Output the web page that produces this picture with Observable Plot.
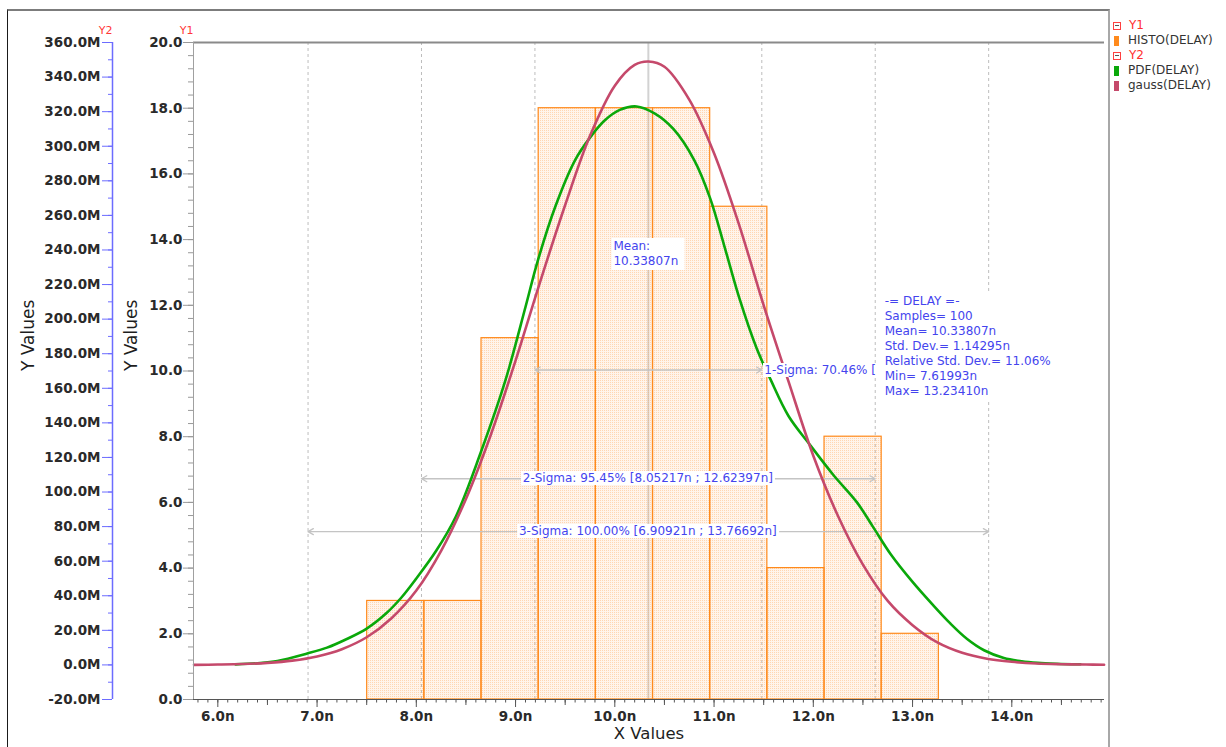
<!DOCTYPE html>
<html>
<head>
<meta charset="utf-8">
<script src="https://cdn.jsdelivr.net/npm/d3@7"></script>
<script src="https://cdn.jsdelivr.net/npm/@observablehq/plot@0.6"></script>
<style>
  body { margin: 0; background: #fff; font-family: "DejaVu Sans", sans-serif; }
  #wrap { position: relative; width: 1226px; height: 747px; overflow: hidden; background: #fff; }
  #chart { position: absolute; left: 0; top: 0; }
  #border { position: absolute; left: 7px; top: 9px; width: 1103px; height: 760px; box-sizing: border-box;
            border-top: 2px solid #7c7c7c; border-left: 1.5px solid #1a1a1a; border-right: 2px solid #a8a8a8; pointer-events: none; }
  .lbl { position: absolute; background: #fff; color: #4444ee; font-size: 12px; line-height: 15px; white-space: pre; }
  #legend { position: absolute; left: 1113px; top: 18px; font-size: 12px; line-height: 15px; color: #333; }
  #legend .row { height: 15px; display: flex; align-items: center; white-space: nowrap; }
  #legend .box { display: inline-block; width: 6px; height: 6px; border: 1px solid #ff4040; margin: 0 8px 0 0; position: relative; }
  #legend .box::after { content: ""; position: absolute; left: 1px; right: 1px; top: 2.5px; height: 1px; background: #555; }
  #legend .grp { color: #ff3030; }
  #legend .sw { display: inline-block; width: 5px; height: 10px; margin: 0 9px 0 1px; }
</style>
</head>
<body>
<svg width="0" height="0" style="position:absolute">
  <defs>
    <pattern id="hdots" width="2" height="2" patternUnits="userSpaceOnUse">
      <rect width="2" height="2" fill="#ff9a3c" fill-opacity="0.10"></rect>
      <rect width="1" height="1" fill="#ff9a3c" fill-opacity="0.32"></rect>
    </pattern>
  </defs>
</svg>
<div id="wrap">
  <div id="chart"></div>
  <div id="border"></div>
  <div id="legend"></div>
</div>
<script>
// ---------- data ----------
const xDomain = [5.755, 14.934];
const y1Domain = [0, 20];
const y2Domain = [-20, 360];

const xTickValues = [6, 7, 8, 9, 10, 11, 12, 13, 14];
const y1TickValues = [0, 2, 4, 6, 8, 10, 12, 14, 16, 18, 20];
const y2TickValues = [-20, 0, 20, 40, 60, 80, 100, 120, 140, 160, 180, 200, 220, 240, 260, 280, 300, 320, 340, 360];

// histogram HISTO(DELAY) on Y1
const histEdges = [7.505, 8.081, 8.657, 9.233, 9.809, 10.385, 10.961, 11.537, 12.113, 12.689, 13.265];
const histCounts = [3, 3, 11, 18, 18, 18, 15, 4, 8, 2];

// PDF(DELAY) on Y2 (values in M)
const pdfX = [6.18, 6.4, 6.6, 6.9, 7.1, 7.3, 7.5, 7.7, 7.85, 8.0, 8.2, 8.4, 8.65, 8.9, 9.1, 9.22, 9.4, 9.6, 9.75, 9.9,
              10.05, 10.22, 10.4, 10.59, 10.8, 10.96, 11.1, 11.25, 11.43, 11.57, 11.75, 11.97, 12.2, 12.44, 12.6, 12.78,
              13.0, 13.2, 13.38, 13.55, 13.72, 13.92, 14.1, 14.26, 14.45, 14.69];
const pdfM = [0.3, 1.0, 2.3, 6.6, 10, 15, 21, 30, 39, 50, 66, 86, 123, 165, 207, 233, 265, 292, 305, 315,
              321, 323, 319, 310, 292, 270, 243, 213, 183, 165, 144, 127, 110, 94, 80, 64,
              48, 35, 24, 15, 8.5, 4.0, 2.1, 1.2, 0.7, 0.4];

// gauss(DELAY) on Y2 (values in M)
const gaussX = [5.76, 6.0, 6.25, 6.5, 6.75, 7.0, 7.25, 7.5, 7.75, 8.0, 8.25, 8.5, 8.75, 9.0, 9.25, 9.5, 9.75, 10.0, 10.2, 10.34,
                10.5, 10.75, 11.0, 11.25, 11.5, 11.75, 12.0, 12.25, 12.5, 12.75, 13.0, 13.25, 13.5, 13.75, 14.0, 14.25, 14.5, 14.75, 14.93];
const gaussM = [0.05, 0.2, 0.5, 1.2, 2.5, 4.9, 9.1, 16, 27, 43, 66, 96, 133, 176, 222, 266, 306, 335, 347, 349,
                346, 327, 296, 255, 208, 164, 121, 86, 58, 37, 23, 13, 7, 3.6, 1.8, 0.8, 0.4, 0.2, 0.1];

// statistics
const meanValue = 10.33807;
const sigmaBounds = [6.90921, 8.05217, 9.19512, 11.48102, 12.62397, 13.76692];
const sigmaNames = ["1-Sigma: 70.46% [", "2-Sigma: 95.45% [8.05217n ; 12.62397n]", "3-Sigma: 100.00% [6.90921n ; 13.76692n]"];
const sigmaLo = [9.19512, 8.05217, 6.90921];
const sigmaHi = [11.48102, 12.62397, 13.76692];
const sigmaLevel = [10.03, 6.72, 5.11];   // Y1 height of each interval arrow
const statsLines = ["-= DELAY =-", "Samples= 100", "Mean= 10.33807n", "Std. Dev.= 1.14295n",
                    "Relative Std. Dev.= 11.06%", "Min= 7.61993n", "Max= 13.23410n"];

const legendItems = [
  {group: "Y1"}, {name: "HISTO(DELAY)", color: "#ff8a1c"},
  {group: "Y2"}, {name: "PDF(DELAY)", color: "#0aa80a"}, {name: "gauss(DELAY)", color: "#c5496b"}
];

// ---------- helpers ----------
const toY1 = m => y1Domain[0] + (m - y2Domain[0]) / (y2Domain[1] - y2Domain[0]) * (y1Domain[1] - y1Domain[0]);
const fromY1 = v => y2Domain[0] + (v - y1Domain[0]) / (y1Domain[1] - y1Domain[0]) * (y2Domain[1] - y2Domain[0]);

const bins = histCounts.map((c, i) => ({x1: histEdges[i], x2: histEdges[i + 1], count: c}));
const pdf = pdfX.map((x, i) => ({x, y: toY1(pdfM[i])}));
const gauss = gaussX.map((x, i) => ({x, y: toY1(gaussM[i])}));
const arrows = sigmaLo.map((lo, i) => ({lo, hi: sigmaHi[i], mid: (lo + sigmaHi[i]) / 2, y: sigmaLevel[i]}));

const xMinor = d3.range(58, 150).map(i => i / 10);
const xMid = d3.range(6, 15).map(i => i + 0.5).filter(v => v < xDomain[1]);
const y1Minor = d3.range(0, 51).map(i => i * 0.4);
const y2Minor = d3.range(y2Domain[0], y2Domain[1] + 1, 10).map(toY1);

const FONT = '"DejaVu Sans", sans-serif';
const BLUE = "#6c6cff";
const RED_TXT = "#ff3838";
const TICKFONT = {fontSize: 13.5, fontWeight: "bold", fill: "#2a2a2a"};

const plot = Plot.plot({
  width: 1110,
  height: 747,
  marginLeft: 193,
  marginRight: 6,
  marginTop: 42,
  marginBottom: 48,
  style: {fontFamily: FONT, background: "transparent", overflow: "visible"},
  x: {domain: xDomain},
  y: {domain: y1Domain},
  marks: [
    // sigma gridlines and mean line
    Plot.ruleX(sigmaBounds, {y1: y1Domain[0], y2: y1Domain[1], stroke: "#bdbdbd", strokeDasharray: "3,3"}),
    Plot.ruleX([meanValue], {y1: y1Domain[0], y2: y1Domain[1], stroke: "#d2d2d2", strokeWidth: 2}),
    // histogram
    Plot.rectY(bins, {x1: "x1", x2: "x2", y: "count", fill: "url(#hdots)", stroke: "#ff8a1c", strokeWidth: 1.2}),
    // sigma interval arrows (two heads)
    Plot.arrow(arrows, {x1: "mid", x2: "hi", y1: "y", y2: "y", stroke: "#c4c4c4", strokeWidth: 1.3, headLength: 7}),
    Plot.arrow(arrows, {x1: "mid", x2: "lo", y1: "y", y2: "y", stroke: "#c4c4c4", strokeWidth: 1.3, headLength: 7}),
    // curves
    Plot.line(pdf, {x: "x", y: "y", stroke: "#0aa80a", strokeWidth: 2.6, curve: "catmull-rom"}),
    Plot.line(gauss, {x: "x", y: "y", stroke: "#c5496b", strokeWidth: 2.6, curve: "catmull-rom"}),
    // frame lines
    Plot.ruleY([y1Domain[1]], {stroke: "#8a8a8a", strokeWidth: 2}),
    Plot.ruleX([xDomain[0]], {y1: y1Domain[0], y2: y1Domain[1], stroke: "#a0a0a0"}),
    Plot.ruleY([y1Domain[0]], {stroke: "#555"}),
    // X axis
    Plot.axisX({ticks: xMinor, tickSize: 3.5, tickFormat: () => "", stroke: "#555", label: null}),
    Plot.axisX({ticks: xMid, tickSize: 6, tickFormat: () => "", stroke: "#555", label: null}),
    Plot.axisX({ticks: xTickValues, tickSize: 8, tickPadding: 4, tickFormat: d => d.toFixed(1) + "n",
                stroke: "#555", label: null, ...TICKFONT}),
    Plot.text(["X Values"], {frameAnchor: "bottom", dy: 39, fontSize: 16.5, fill: "#1e1e1e"}),
    // Y1 axis
    Plot.axisY({ticks: y1Minor, tickSize: 5, tickFormat: () => "", stroke: "#999", label: null}),
    Plot.axisY({ticks: y1TickValues, tickSize: 10, tickPadding: 1, tickFormat: d => d.toFixed(1),
                stroke: "#999", label: null, ...TICKFONT}),
    Plot.text(["Y Values"], {frameAnchor: "left", dx: -62, rotate: -90, fontSize: 17, fill: "#1e1e1e"}),
    Plot.text(["Y1"], {frameAnchor: "top-left", textAnchor: "end", dy: -16, fontSize: 11, fill: RED_TXT}),
    // Y2 axis
    Plot.ruleX([xDomain[0]], {y1: y1Domain[0], y2: y1Domain[1], dx: -81, stroke: BLUE, strokeWidth: 1.5}),
    Plot.axisY({ticks: y2Minor, tickSize: 4, dx: -81, tickFormat: () => "", stroke: BLUE, label: null}),
    Plot.axisY({ticks: y2TickValues.map(toY1), tickSize: 10, tickPadding: 2, dx: -81,
                tickFormat: v => Math.round(fromY1(v)).toFixed(1) + "M",
                stroke: BLUE, label: null, ...TICKFONT}),
    Plot.text(["Y Values"], {frameAnchor: "left", dx: -165, rotate: -90, fontSize: 17, fill: "#1e1e1e"}),
    Plot.text(["Y2"], {frameAnchor: "top-left", textAnchor: "end", dx: -81, dy: -16, fontSize: 11, fill: RED_TXT})
  ]
});
document.getElementById("chart").appendChild(plot);

// ---------- annotations placed through the plot's scales ----------
const sx = plot.scale("x"), sy = plot.scale("y");
const wrap = document.getElementById("wrap");
function addLabel(text, left, top, transform, style) {
  const d = document.createElement("div");
  d.className = "lbl";
  d.textContent = text;
  d.style.left = left + "px";
  d.style.top = top + "px";
  if (transform) d.style.transform = transform;
  Object.assign(d.style, style || {});
  wrap.insertBefore(d, document.getElementById("border"));
  return d;
}
// Mean box
addLabel("Mean:\n" + meanValue.toFixed(5) + "n", sx.apply(meanValue), sy.apply(13.55), "translate(-50%,-50%)",
         {padding: "1px 6px 1px 2px"});
// 2- and 3-sigma labels centred on the mean
addLabel(sigmaNames[1], sx.apply(meanValue), sy.apply(sigmaLevel[1]), "translate(-50%,-50%)", {padding: "0 2px", lineHeight: "14px"});
addLabel(sigmaNames[2], sx.apply(meanValue), sy.apply(sigmaLevel[2]), "translate(-50%,-50%)", {padding: "0 2px", lineHeight: "14px"});
// 1-sigma label starting at the right arrow head
addLabel(sigmaNames[0], sx.apply(sigmaHi[0]) + 2, sy.apply(sigmaLevel[0]), "translate(0,-50%)", {padding: "0 1px", lineHeight: "14px"});
// statistics box
addLabel(statsLines.join("\n"), sx.apply(sigmaBounds[4]) + 8, sy.apply(12.32), null,
         {padding: "0 4px 3px 2px", minWidth: "168px"});

// ---------- legend ----------
const legend = document.getElementById("legend");
legendItems.forEach(it => {
  const row = document.createElement("div");
  row.className = "row";
  if (it.group) {
    row.innerHTML = '<span class="box"></span><span class="grp">' + it.group + '</span>';
  } else {
    row.innerHTML = '<span class="sw" style="background:' + it.color + '"></span><span>' + it.name + '</span>';
  }
  legend.appendChild(row);
});
</script>
</body>
</html>
